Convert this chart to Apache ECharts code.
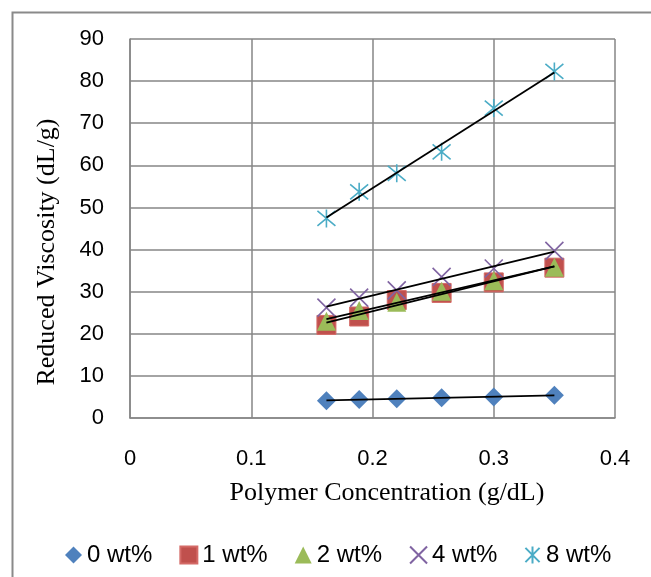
<!DOCTYPE html>
<html>
<head>
<meta charset="utf-8">
<script src="https://cdn.jsdelivr.net/npm/echarts@6/dist/echarts.min.js"></script>
<style>
html,body{margin:0;padding:0;background:#fff;}
#chart{width:651px;height:577px;}
</style>
</head>
<body>
<div id="chart"></div>
<script>
// Data
var concentration = [0.162, 0.189, 0.220, 0.257, 0.300, 0.350];
var wt0 = [4.1, 4.4, 4.6, 4.8, 5.0, 5.4];
var wt1 = [22.1, 24.1, 28.0, 29.7, 32.2, 35.7];
var wt2 = [23.0, 25.5, 27.5, 30.1, 32.6, 35.8];
var wt4 = [26.2, 28.6, 30.3, 33.5, 35.5, 39.7];
var wt8 = [47.4, 53.7, 58.1, 63.2, 73.6, 82.3];
var seriesNames = ['0 wt%', '1 wt%', '2 wt%', '4 wt%', '8 wt%'];
var xTicks = [0, 0.1, 0.2, 0.3, 0.4];
var yTicks = [0, 10, 20, 30, 40, 50, 60, 70, 80, 90];

var allSeries = [wt0, wt1, wt2, wt4, wt8];
var colors = ['#4F81BD', '#C0504D', '#9BBB59', '#8064A2', '#4BACC6'];
var symbols = [
  'diamond',
  'rect',
  'triangle',
  'path://M0,0L10,10M10,0L0,10',
  'path://M0,0L10,10M10,0L0,10M5,-1L5,11'
];
var symbolSizes = [19, 19, 19, 18, 18];

function pairs(xs, ys) { return xs.map(function (x, i) { return [x, ys[i]]; }); }
function fit(xs, ys) {
  var n = xs.length, sx = 0, sy = 0, sxx = 0, sxy = 0;
  for (var i = 0; i < n; i++) { sx += xs[i]; sy += ys[i]; sxx += xs[i]*xs[i]; sxy += xs[i]*ys[i]; }
  var b = (n*sxy - sx*sy) / (n*sxx - sx*sx);
  var a = (sy - b*sx) / n;
  var x0 = Math.min.apply(null, xs), x1 = Math.max.apply(null, xs);
  return [[x0, a + b*x0], [x1, a + b*x1]];
}

var series = [];
allSeries.forEach(function (ys, i) {
  var stroked = i >= 3;
  series.push({
    name: seriesNames[i],
    type: 'scatter',
    data: pairs(concentration, ys),
    symbol: symbols[i],
    symbolSize: symbolSizes[i],
    itemStyle: stroked ? { color: 'rgba(0,0,0,0)', borderColor: colors[i], borderWidth: 1.6, opacity: 1 }
                       : { color: colors[i], borderColor: i === 1 ? '#D46A67' : colors[i], borderWidth: i === 1 ? 1 : 0, opacity: 1 },
    z: 2
  });
});
allSeries.forEach(function (ys, i) {
  series.push({
    name: 'trend' + i,
    type: 'line',
    data: fit(concentration, ys),
    symbol: 'none',
    lineStyle: { color: '#000', width: 1.8 },
    silent: true,
    z: 5
  });
});

var chart = echarts.init(document.getElementById('chart'), null, { renderer: 'canvas' });
chart.setOption({
  animation: false,
  backgroundColor: '#fff',
  grid: { left: 130, right: 36, top: 39, bottom: 159, containLabel: false },
  xAxis: {
    type: 'value', min: xTicks[0], max: xTicks[xTicks.length - 1], interval: 0.1,
    axisLine: { show: true, lineStyle: { color: '#868686', width: 1.5 } },
    axisTick: { show: false },
    splitLine: { show: true, lineStyle: { color: '#868686', width: 1.5 } },
    axisLabel: { color: '#000', fontFamily: 'Liberation Sans', fontSize: 22, margin: 30 }
  },
  yAxis: {
    type: 'value', min: yTicks[0], max: yTicks[yTicks.length - 1], interval: 10,
    axisLine: { show: true, lineStyle: { color: '#868686', width: 1.5 } },
    axisTick: { show: false },
    splitLine: { show: true, lineStyle: { color: '#868686', width: 1.5 } },
    axisLabel: { color: '#000', fontFamily: 'Liberation Sans', fontSize: 22, margin: 26 }
  },
  legend: {
    data: seriesNames,
    left: 60, top: 538,
    itemWidth: 17, itemHeight: 17, itemGap: 27,
    textStyle: { color: '#000', fontFamily: 'Liberation Sans', fontSize: 24 }
  },
  graphic: [
    { type: 'rect', left: 10, top: 10, shape: { x: 0, y: 0, width: 660, height: 590 },
      style: { fill: 'none', stroke: '#8a8a8a', lineWidth: 2 }, z: -1 },
    { type: 'text', x: 387, y: 493, style: { text: 'Polymer Concentration (g/dL)', fontFamily: 'Liberation Serif',
      fontSize: 26, fill: '#000', align: 'center', verticalAlign: 'middle' } },
    { type: 'text', x: 47, y: 252, rotation: Math.PI / 2, style: { text: 'Reduced Viscosity (dL/g)', fontFamily: 'Liberation Serif',
      fontSize: 26, fill: '#000', align: 'center', verticalAlign: 'middle' } }
  ],
  series: series
});
</script>
</body>
</html>
